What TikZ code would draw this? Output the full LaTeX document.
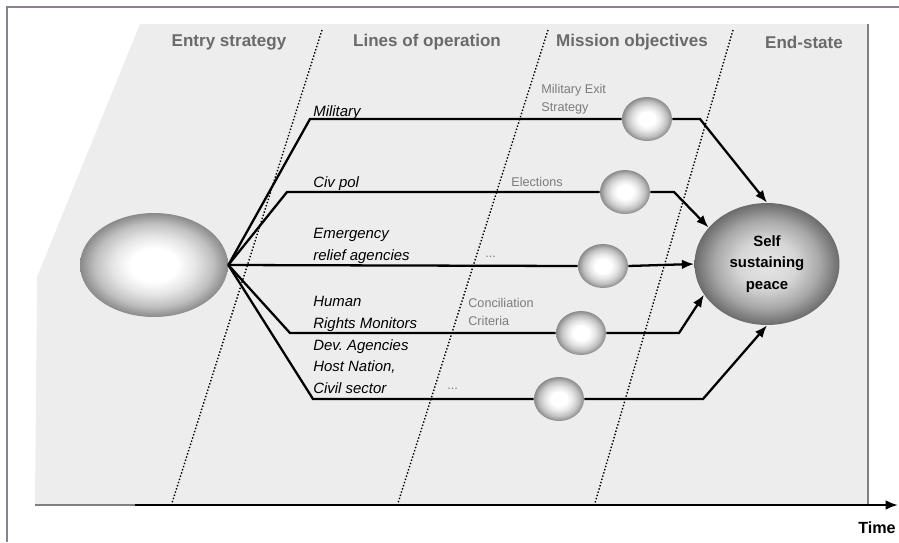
\documentclass[tikz,border=0pt]{standalone}
\usepackage{fontspec}
\setmainfont{Liberation Sans}
\usepackage{tikz}
\usetikzlibrary{arrows,arrows.meta,positioning,shapes}
\definecolor{bggray}{HTML}{EDEDED}
\definecolor{headgray}{HTML}{6A6A6A}
\definecolor{notegray}{HTML}{7C7C7C}
\definecolor{framegray}{HTML}{8A8090}
\pgfdeclareradialshading{orb}{\pgfpoint{0bp}{0bp}}{color(0bp)=(white); color(8bp)=(white); color(14bp)=(black!10); color(20bp)=(black!25); color(25bp)=(black!46); color(50bp)=(black!46)}
\pgfdeclareradialshading{bigorb}{\pgfpoint{0bp}{0bp}}{color(0bp)=(black!10); color(10bp)=(black!16); color(18bp)=(black!34); color(25bp)=(black!58); color(50bp)=(black!58)}

\begin{document}
\frenchspacing
\begin{tikzpicture}[x=0.02cm,y=-0.02cm,
            ball/.style={ellipse,inner sep=0,minimum width=1cm,minimum height=.88cm,shading=orb},
            entry/.style={ball,minimum width=2.96cm,minimum height=2.08cm},
            goal/.style={ball,minimum width=2.9cm,minimum height=2.44cm,shading=bigorb,align=center,font=\bfseries\fontsize{8.5}{12.2}\selectfont},
            head/.style={text=headgray,inner sep=0,font=\bfseries\fontsize{9.7}{12}\selectfont},
            lab/.style={anchor=west,align=left,inner sep=0,font=\itshape\fontsize{8.5}{12.3}\selectfont},
            note/.style={anchor=west,align=left,inner sep=0,text=notegray,font=\fontsize{7.2}{10.2}\selectfont},
            line/.style={draw,line width=1.3pt},
            arr/.style={line,-{Latex[length=7pt,width=5.5pt]}},
            divider/.style={draw,line width=.8pt,dash pattern=on .8pt off 1.1pt}
          ]
          \useasboundingbox (0,0) rectangle (899,542);
          %frame and background
          \draw[framegray,line width=.6pt] (7,542) -- (7,7) -- (899,7);
          \fill[bggray] (140,24) -- (868,24) -- (868,505) -- (35,505) -- (37,277) -- cycle;
          \draw[gray,line width=.8pt] (868,24) -- (868,505);

          %time axis
          \coordinate (t0) at (35,505);
          \coordinate (t1) at (135,505);
          \coordinate (t2) at (898,505);
          \draw[gray,line width=.8pt] (t0) -- (t1);
          \draw[arr] (t1) -- (t2);
          \node[font=\bfseries\fontsize{9.2}{11}\selectfont] (time) at (877,528) {Time};

          %dividers
          \draw[divider] (322,30) -- (172,503);
          \draw[divider] (548,30) -- (398,503);
          \draw[divider] (733,30) -- (595,503);

          %headings
          \node[head] (hentry) at (229,42) {Entry strategy};
          \node[head] (hlines) at (427,42) {Lines of operation};
          \node[head] (hmiss) at (632,42) {Mission objectives};
          \node[head] (hend) at (804,42) {End-state};

          %ellipses
          \node[entry] (start) at (154,265) {};
          \node[goal] (peace) at (767,264) {Self\\sustaining\\peace};
          \node[ball] (obj1) at (647,119) {};
          \node[ball] (obj2) at (625,192) {};
          \node[ball] (obj3) at (603,266) {};
          \node[ball] (obj4) at (581,333) {};
          \node[ball] (obj5) at (559,399) {};

          %bends
          \coordinate (m1) at (310,119);
          \coordinate (m2) at (700,119);
          \coordinate (c1) at (287,192);
          \coordinate (c2) at (674,192);
          \coordinate (h1) at (290,333);
          \coordinate (h2) at (679,333);
          \coordinate (s1) at (313,399);
          \coordinate (s2) at (703,399);

          %lines of operation
          \draw[line] (start.east) -- (m1) -- (obj1.west);
          \draw[arr] (obj1.east) -- (m2) -- (peace.north);
          \draw[line] (start.east) -- (c1) -- (obj2.west);
          \draw[arr] (obj2.east) -- (c2) -- (peace.148);
          \draw[line] (start.east) -- (obj3.west);
          \draw[arr] (obj3.east) -- (peace.west);
          \draw[line] (start.east) -- (h1) -- (obj4.west);
          \draw[arr] (obj4.east) -- (h2) -- (peace.206);
          \draw[line] (start.east) -- (s1) -- (obj5.west);
          \draw[arr] (obj5.east) -- (s2) -- (peace.south);

          %labels
          \node[lab] (lmil) at (313,113) {Military};
          \node[lab] (lciv) at (313,184) {Civ pol};
          \node[lab] (lemg) at (313,246) {Emergency\\relief agencies};
          \node[lab] (lhum) at (313,345) {Human\\Rights Monitors\\Dev. Agencies\\Host Nation,\\Civil sector};

          %objective notes
          \node[note] (nmil) at (541,99) {Military Exit\\Strategy};
          \node[note] (nele) at (511,182) {Elections};
          \node[note] (ndot1) at (485,257) {...};
          \node[note] (ncon) at (468,312) {Conciliation\\Criteria};
          \node[note] (ndot2) at (447,389) {...};
      \end{tikzpicture}
\end{document}
